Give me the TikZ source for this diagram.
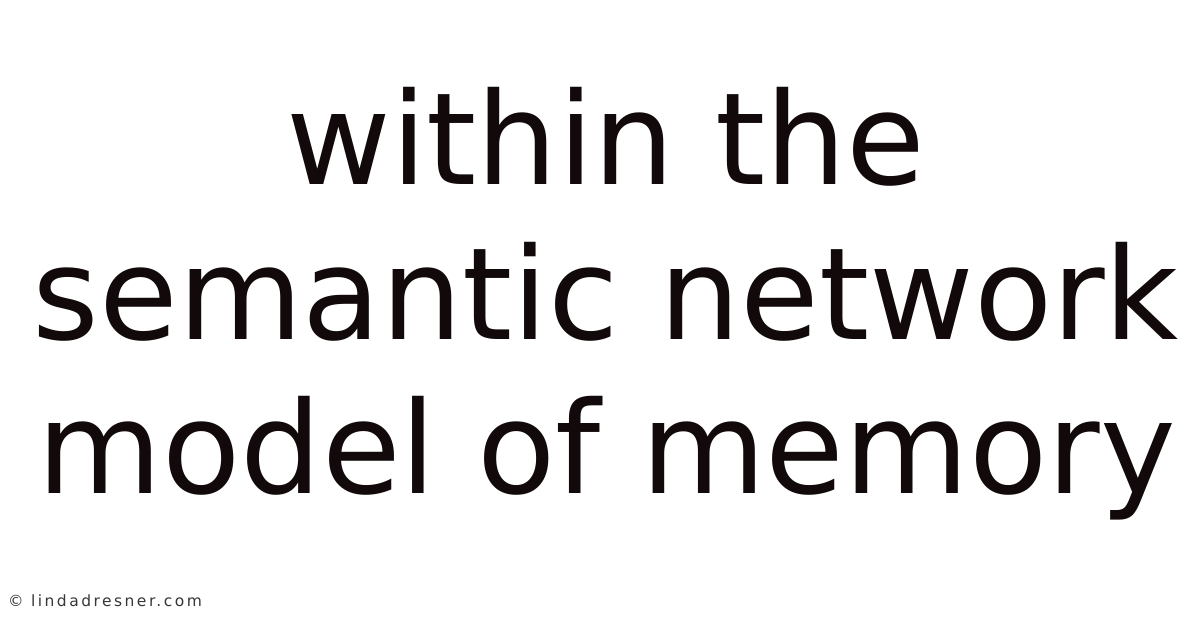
\documentclass[tikz,border=0pt]{standalone}
\usepackage{fontspec}
\setmainfont{DejaVu Sans}
\definecolor{titleink}{RGB}{18,10,10}
\definecolor{footink}{RGB}{55,55,55}
\tikzset{
  titleline/.style={anchor=base, inner sep=0pt, text=titleink, font=\fontsize{128}{154}\selectfont},
  footer/.style={anchor=base west, inner sep=0pt, text=footink, font=\fontsize{15.5}{18}\selectfont\addfontfeature{LetterSpace=16}}
}
\begin{document}
\begin{tikzpicture}[x=1pt,y=1pt]
\fill[white] (0,0) rectangle (1200,628);
\useasboundingbox (0,0) rectangle (1200,628);
\node[titleline] (l1) at (606,628-185) {within the};
\node[titleline] (l2) at (606,628-340) {semantic network};
\node[titleline] (l3) at (607,628-494) {model of memory};
\node[footer] (ft) at (8,628-607) {© lindadresner.com};
\end{tikzpicture}
\end{document}
